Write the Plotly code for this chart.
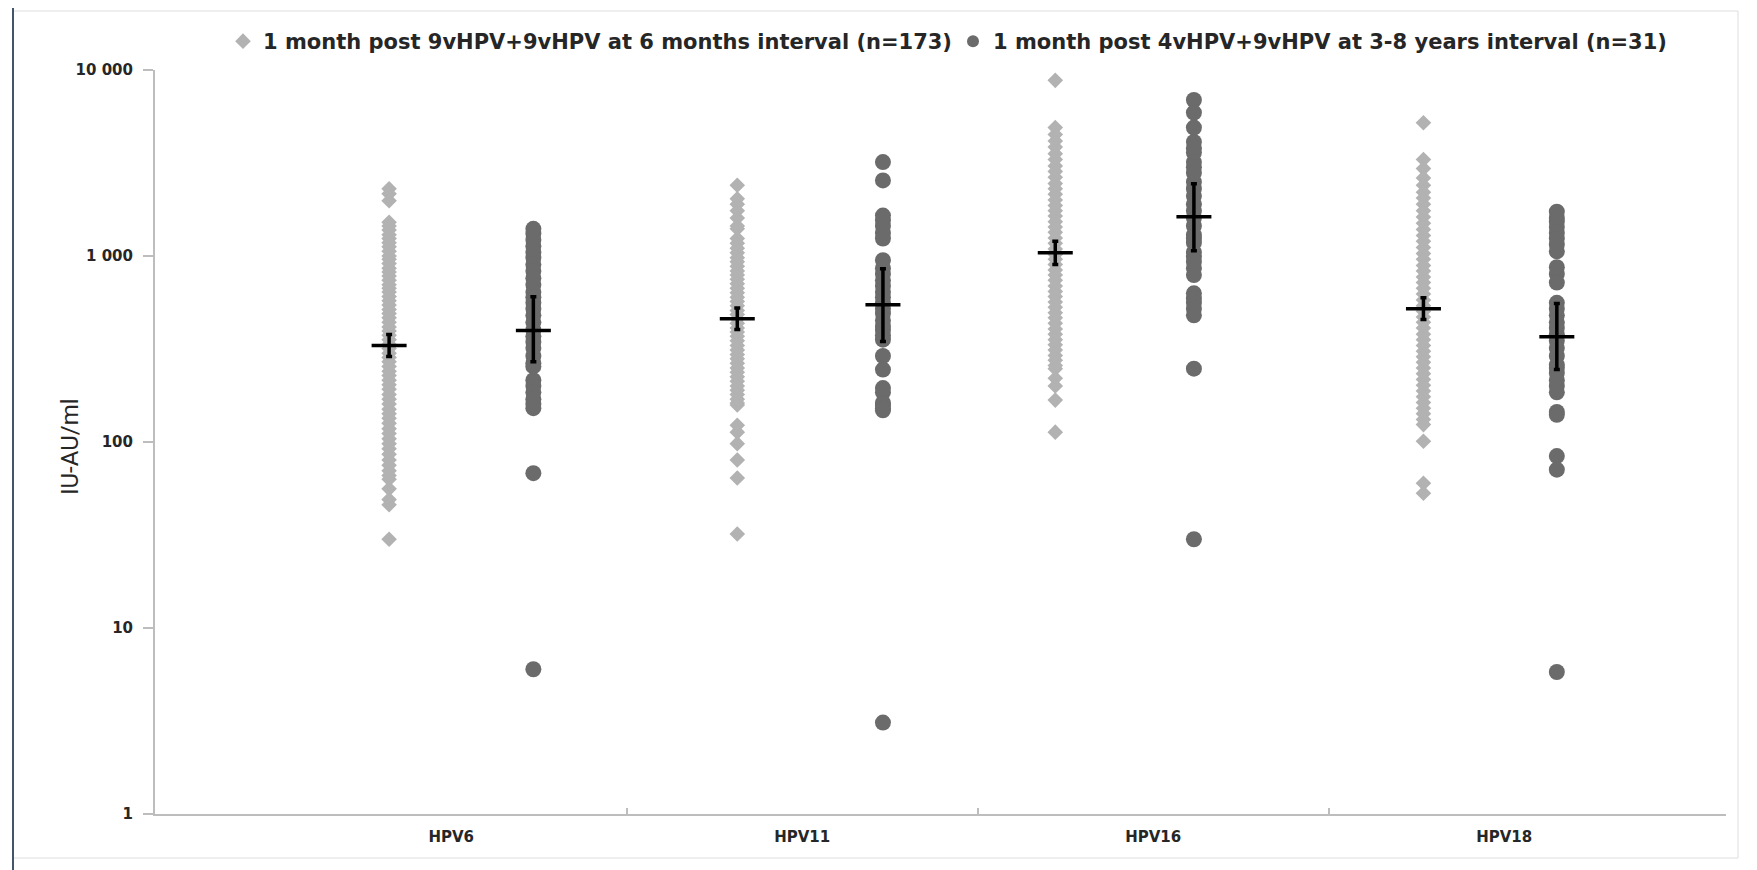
import plotly.graph_objects as go

# ---------------- data ----------------
categories = ["HPV6", "HPV11", "HPV16", "HPV18"]
series_names = [
    "1 month post 9vHPV+9vHPV at 6 months interval (n=173)",
    "1 month post 4vHPV+9vHPV at 3-8 years interval (n=31)",
]

light_hpv6 = [2300, 2160, 1980, 1520, 1450, 1380, 1300, 1240, 1180, 1120, 1060, 1000, 960,
              910, 860, 820, 780, 740, 700, 670, 640, 605, 575, 545, 515, 490, 465, 440,
              415, 395, 375, 355, 335, 318, 300, 285, 270, 255, 240, 228, 215, 203, 192,
              180, 170, 160, 150, 142, 134, 126, 118, 111, 104, 98, 92, 86, 80, 75, 70,
              66, 63, 56, 49, 46, 30]
light_hpv11 = [2400, 2030, 1900, 1750, 1600, 1450, 1400, 1240, 1170, 1100, 1040, 980, 930,
               880, 830, 790, 750, 710, 670, 635, 600, 570, 540, 510, 485, 460, 435, 410,
               390, 370, 350, 330, 312, 295, 280, 265, 250, 237, 224, 212, 200, 190, 180,
               170, 162, 158, 123, 113, 98, 80, 64, 32]
light_hpv16 = [8800, 4900, 4500, 4150, 3850, 3550, 3300, 3050, 2850, 2650, 2450, 2300, 2150,
               2000, 1870, 1750, 1640, 1530, 1430, 1340, 1250, 1170, 1090, 1020, 960, 900,
               840, 790, 740, 690, 645, 605, 565, 530, 495, 465, 435, 405, 380, 355, 333,
               312, 292, 275, 258, 248, 220, 200, 168, 113]
light_hpv18 = [5200, 3300, 2950, 2630, 2400, 2200, 2050, 1900, 1750, 1620, 1500, 1390, 1290,
               1200, 1110, 1030, 960, 890, 830, 770, 720, 670, 625, 580, 540, 505, 470, 440,
               410, 380, 355, 330, 308, 287, 268, 250, 233, 217, 202, 188, 175, 163, 152,
               142, 132, 124, 101, 60, 53]

dark_hpv6 = [1400, 1320, 1220, 1130, 1050, 980, 900, 830, 760, 700, 640, 600, 560, 520, 480,
             440, 400, 370, 345, 320, 290, 265, 255, 215, 200, 185, 170, 160, 152, 68, 6]
dark_hpv11 = [3200, 2550, 1650, 1550, 1450, 1330, 1240, 950, 860, 800, 740, 690, 640, 600, 560,
              520, 490, 450, 420, 400, 375, 355, 290, 245, 195, 185, 162, 157, 152, 148, 3.1]
dark_hpv16 = [6900, 5900, 4900, 4100, 3800, 3600, 3200, 3000, 2800, 2500, 2300, 2100, 1900,
              1750, 1600, 1450, 1300, 1240, 1180, 1050, 990, 930, 860, 790, 630, 590, 560,
              520, 480, 248, 30]
dark_hpv18 = [1730, 1600, 1530, 1430, 1330, 1240, 1150, 1060, 870, 800, 720, 560, 520, 480,
              440, 410, 380, 350, 320, 290, 260, 250, 235, 215, 200, 185, 145, 140, 84, 71, 5.8]

light_gmt = [330, 460, 1040, 521]
light_ci_low = [288, 402, 900, 455]
light_ci_high = [378, 526, 1200, 597]
dark_gmt = [397, 547, 1625, 368]
dark_ci_low = [270, 347, 1067, 245]
dark_ci_high = [604, 855, 2443, 555]

y_tickvals = [1, 10, 100, 1000, 10000]
y_ticktext = ["1", "10", "100", "1 000", "10 000"]

# ---------------- styling / layout ----------------
LIGHT = "#b2b2b2"
DARK = "#6b6b6b"
TXT = "#262626"
AXIS_COLOR = "#bdbdbd"
cat_pos = [1, 2, 3, 4]
# horizontal placement of each column (axis units)
LIGHT_X = [0.823, 1.815, 2.721, 3.770]
DARK_X = [1.234, 2.230, 3.116, 4.150]
X_RANGE = [0.156, 4.632]

W, H = 1757, 870
L, R, T, B = 147, 39, 62, 64
PW, PH = W - L - R, H - T - B


def px_x(p):
    return (p - L) / PW


def px_y(p):
    return (H - B - p) / PH


light_sets = [light_hpv6, light_hpv11, light_hpv16, light_hpv18]
dark_sets = [dark_hpv6, dark_hpv11, dark_hpv16, dark_hpv18]

lx, ly, dx, dy = [], [], [], []
for p, vals in zip(LIGHT_X, light_sets):
    lx += [p] * len(vals)
    ly += vals
for p, vals in zip(DARK_X, dark_sets):
    dx += [p] * len(vals)
    dy += vals

fig = go.Figure()
fig.add_trace(go.Scatter(
    x=lx, y=ly, mode="markers", name=series_names[0],
    marker=dict(symbol="diamond", size=12, color=LIGHT, line=dict(width=0)),
))
fig.add_trace(go.Scatter(
    x=dx, y=dy, mode="markers", name=series_names[1],
    marker=dict(symbol="circle", size=16, color=DARK, line=dict(width=0)),
))

for xs, gmt, lo, hi in [(LIGHT_X, light_gmt, light_ci_low, light_ci_high),
                        (DARK_X, dark_gmt, dark_ci_low, dark_ci_high)]:
    fig.add_trace(go.Scatter(
        x=xs, y=gmt, mode="markers", showlegend=False,
        marker=dict(symbol="line-ew", size=25, color="black",
                    line=dict(width=3.5, color="black")),
        error_y=dict(type="data", symmetric=False,
                     array=[h - g for h, g in zip(hi, gmt)],
                     arrayminus=[g - l for g, l in zip(gmt, lo)],
                     color="black", thickness=3.5, width=3),
    ))

fig.update_layout(
    width=W, height=H,
    paper_bgcolor="white", plot_bgcolor="white",
    margin=dict(l=L, r=R, t=T, b=B, autoexpand=False),
    font=dict(family="DejaVu Sans", color=TXT),
    legend=dict(orientation="h", xref="container", yref="container",
                x=215 / W, y=1 - 13 / H, xanchor="left", yanchor="top",
                font=dict(family="DejaVu Sans", size=21, weight="bold", color=TXT),
                entrywidth=685, itemsizing="constant", bgcolor="rgba(0,0,0,0)"),
    xaxis=dict(range=X_RANGE, tickvals=cat_pos, ticktext=categories,
               ticks="", showgrid=False, zeroline=False,
               showline=True, linecolor=AXIS_COLOR, linewidth=2,
               tickfont=dict(family="DejaVu Sans", size=15, weight="bold", color=TXT),
               minor=dict(tickvals=[1.5, 2.5, 3.5], ticks="inside", ticklen=6,
                          tickcolor=AXIS_COLOR, tickwidth=1.5),
               ticklabelstandoff=8),
    yaxis=dict(type="log", range=[0, 4], tickvals=y_tickvals, ticktext=y_ticktext,
               ticks="outside", ticklen=10, tickcolor=AXIS_COLOR, tickwidth=1.5,
               showgrid=False, zeroline=False,
               showline=True, linecolor=AXIS_COLOR, linewidth=2,
               tickfont=dict(family="DejaVu Sans", size=15, weight="bold", color=TXT),
               ticklabelstandoff=7),
    showlegend=True,
)

fig.add_annotation(text="IU-AU/ml", textangle=-90, xref="paper", yref="paper",
                   x=px_x(62), y=px_y(439), xanchor="center", yanchor="middle",
                   showarrow=False,
                   font=dict(family="Liberation Sans Narrow, Roboto", size=24, color=TXT))

# frame around the figure
fig.add_shape(type="rect", xref="paper", yref="paper",
              x0=px_x(5), x1=px_x(1730), y0=px_y(850), y1=px_y(3),
              line=dict(color="#dedede", width=1), layer="below")
fig.add_shape(type="line", xref="paper", yref="paper",
              x0=px_x(5), x1=px_x(5), y0=px_y(H), y1=px_y(0),
              line=dict(color="#44546a", width=2))

fig.write_html("out.html")
